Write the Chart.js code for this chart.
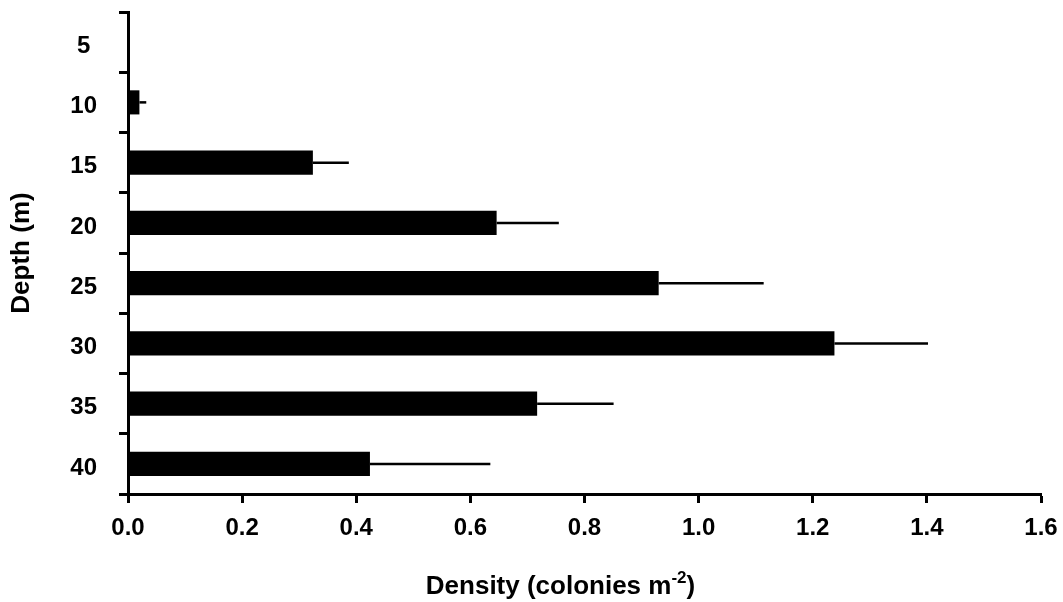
<!DOCTYPE html>
<html>
<head>
<meta charset="utf-8">
<script src="https://cdn.jsdelivr.net/npm/chart.js@4.4.1/dist/chart.umd.min.js"></script>
<style>
  html, body { margin: 0; padding: 0; background: #fff; }
  #wrap { width: 1063px; height: 602px; }
</style>
</head>
<body>
<div id="wrap"><canvas id="myChart"></canvas></div>
<script>
// depth classes (m) and mean density with its standard error
var depths = ['5', '10', '15', '20', '25', '30', '35', '40'];
var density = [0, 0.02, 0.324, 0.646, 0.930, 1.238, 0.717, 0.424];
var densityErr = [0, 0.012, 0.063, 0.109, 0.184, 0.164, 0.134, 0.211];
var xTicks = [0, 0.2, 0.4, 0.6, 0.8, 1.0, 1.2, 1.4, 1.6];

var labelFont = { family: 'Liberation Sans, Arial, sans-serif', size: 24, weight: 'bold' };
var titleFont = { family: 'Liberation Sans, Arial, sans-serif', size: 26, weight: 'bold' };

// one sided error bars, drawn off the bar ends
const errorBars = {
  id: 'errorBars',
  afterDatasetsDraw(chart) {
    var ctx = chart.ctx;
    var xs = chart.scales.x;
    var meta = chart.getDatasetMeta(0);
    ctx.save();
    ctx.strokeStyle = '#000';
    ctx.lineWidth = 2.5;
    meta.data.forEach(function (bar, i) {
      if (!densityErr[i]) return;
      var x0 = xs.getPixelForValue(density[i]);
      var x1 = xs.getPixelForValue(density[i] + densityErr[i]);
      ctx.beginPath();
      ctx.moveTo(x0, bar.y);
      ctx.lineTo(x1, bar.y);
      ctx.stroke();
    });
    ctx.restore();
  }
};

// x axis title with a real superscript
const xTitle = {
  id: 'xTitle',
  afterDraw(chart) {
    var ctx = chart.ctx;
    var area = chart.chartArea;
    var main = 'Density (colonies m';
    var sup = '-2';
    var end = ')';
    ctx.save();
    ctx.fillStyle = '#000';
    ctx.textBaseline = 'alphabetic';
    ctx.font = 'bold 26px Liberation Sans, Arial, sans-serif';
    var wMain = ctx.measureText(main).width;
    var wEnd = ctx.measureText(end).width;
    ctx.font = 'bold 17px Liberation Sans, Arial, sans-serif';
    var wSup = ctx.measureText(sup).width;
    var total = wMain + wSup + wEnd;
    var cx = (area.left + area.right) / 2 - 24;
    var x = cx - total / 2;
    var base = 594;
    ctx.font = 'bold 26px Liberation Sans, Arial, sans-serif';
    ctx.fillText(main, x, base);
    ctx.font = 'bold 17px Liberation Sans, Arial, sans-serif';
    ctx.fillText(sup, x + wMain, base - 11);
    ctx.font = 'bold 26px Liberation Sans, Arial, sans-serif';
    ctx.fillText(end, x + wMain + wSup, base);
    ctx.restore();
  }
};

var ctx1 = document.getElementById('myChart');

const chartData = {
  labels: depths,
  datasets: [{
    label: 'Density',
    data: density,
    backgroundColor: '#000',
    borderWidth: 0,
    barPercentage: 0.4,
    categoryPercentage: 1.0
  }]
};

const config = {
  type: 'bar',
  data: chartData,
  options: {
    indexAxis: 'y',
    responsive: true,
    maintainAspectRatio: false,
    animation: false,
    layout: { padding: { top: 12, right: 22, left: 0, bottom: 0 } },
    plugins: {
      legend: { display: false },
      tooltip: { enabled: false }
    },
    scales: {
      x: {
        type: 'linear',
        min: 0,
        max: 1.6,
        afterBuildTicks: function (scale) {
          scale.ticks = xTicks.map(function (v) { return { value: v }; });
        },
        afterFit: function (scale) {
          scale.height = 108;
          scale.paddingLeft = 0;
          scale.paddingRight = 0;
        },
        grid: { drawOnChartArea: false, drawTicks: true, tickLength: 9, tickWidth: 3, tickColor: '#000' },
        border: { display: true, width: 3, color: '#000' },
        ticks: {
          color: '#000',
          font: labelFont,
          padding: 11,
          maxRotation: 0,
          callback: function (v) { return Number(v).toFixed(1); }
        }
      },
      y: {
        type: 'category',
        afterFit: function (scale) {
          scale.width = 128;
          scale.paddingTop = 0;
          scale.paddingBottom = 0;
        },
        grid: { offset: true, drawOnChartArea: false, drawTicks: true, tickLength: 9, tickWidth: 3, tickColor: '#000' },
        border: { display: true, width: 3, color: '#000' },
        ticks: {
          color: '#000',
          font: labelFont,
          padding: 22,
          crossAlign: 'center',
          labelOffset: 4
        },
        title: {
          display: true,
          text: 'Depth (m)',
          color: '#000',
          font: titleFont,
          padding: { top: 6 }
        }
      }
    }
  },
  plugins: [errorBars, xTitle]
};

const myChart = new Chart(ctx1, config);
</script>
</body>
</html>
